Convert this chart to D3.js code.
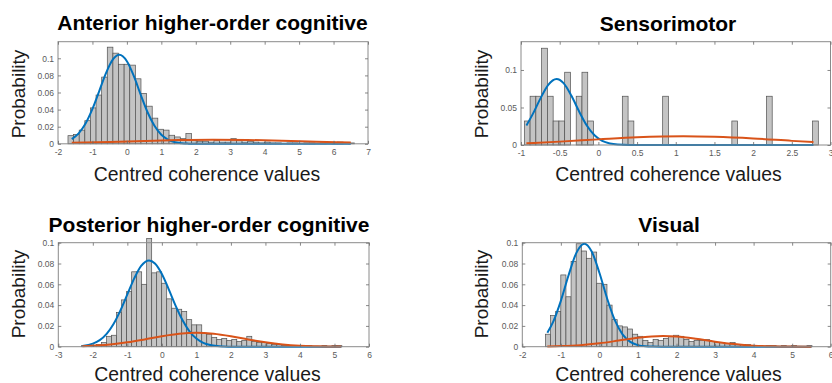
<!DOCTYPE html>
<html>
<head>
<meta charset="utf-8">
<script src="https://cdn.jsdelivr.net/npm/d3@7"></script>
<style>
  body { margin: 0; background: #fff; }
  svg { display: block; }
  text { font-family: "Liberation Sans", Arial, Helvetica, sans-serif; }
</style>
</head>
<body>
<svg id="chart" width="832" height="383"></svg>
<script>
// ---- Histogram probabilities (equal-width bins) ----
const antStart = -1.71, antWidth = 0.163;
const antProb = [0.0095, 0.011, 0.016, 0.027, 0.042, 0.057, 0.078, 0.113, 0.106, 0.093,
  0.093, 0.092, 0.076, 0.059, 0.044, 0.030, 0.017, 0.016, 0.010, 0.008,
  0.006, 0.012, 0.004, 0.003, 0.003, 0.002, 0.004, 0.002, 0.002, 0.006,
  0.004, 0.002, 0.003, 0.002, 0.001, 0.002, 0.001, 0.001, 0, 0.001,
  0.001, 0, 0.001, 0.001, 0, 0.001, 0, 0.001, 0.002, 0, 0.001];

const smStart = -0.957, smWidth = 0.0745;
const smProb = [0.032, 0.065, 0.065, 0.129, 0.065, 0.032, 0.032, 0.097, 0, 0.065,
  0.097, 0.032, 0, 0, 0, 0, 0, 0.065, 0.032, 0,
  0, 0, 0, 0, 0.065, 0, 0, 0, 0, 0,
  0, 0, 0, 0, 0, 0, 0.032, 0, 0, 0,
  0, 0, 0.065, 0, 0, 0, 0, 0, 0, 0, 0.032];

const postStart = -2.325, postWidth = 0.145;
const postProb = [0.001, 0.0005, 0.001, 0.002, 0.004, 0.010, 0.011, 0.033, 0.045, 0.053,
  0.072, 0.072, 0.060, 0.104, 0.071, 0.072, 0.061, 0.046, 0.037, 0.036,
  0.034, 0.026, 0.021, 0.021, 0.013, 0.012, 0.009, 0.007, 0.008, 0.006,
  0.007, 0.005, 0.006, 0.010, 0.005, 0.004, 0.004, 0.003, 0.002, 0.002,
  0.001, 0.001, 0.001, 0.001, 0, 0.001, 0, 0, 0.001, 0, 0.001, 0.001];

const visStart = -1.40, visWidth = 0.133;
const visProb = [0.012, 0.030, 0.034, 0.069, 0.048, 0.082, 0.099, 0.092, 0.085, 0.091,
  0.061, 0.060, 0.040, 0.026, 0.020, 0.019, 0.017, 0.012, 0.010, 0.006,
  0.004, 0.007, 0.006, 0.008, 0.010, 0.011, 0.010, 0.007, 0.005, 0.006,
  0.006, 0.007, 0.005, 0.004, 0.004, 0.003, 0.004, 0.002, 0.002, 0.002,
  0.001, 0.001, 0, 0.001, 0.001, 0, 0.001, 0, 0.001, 0, 0, 0.001];

// ---- Fitted mixture components, [x, probability] ----
const antBlue = [[-1.6,0.0055],[-1.4,0.0122],[-1.2,0.0237],[-1.0,0.0408],[-0.8,0.062],[-0.6,0.0833],
  [-0.4,0.0989],[-0.22,0.104],[0,0.0965],[0.2,0.0793],[0.4,0.0575],[0.6,0.0369],[0.8,0.021],
  [1.0,0.0105],[1.2,0.0047],[1.4,0.0018],[1.6,0.0006],[1.8,0.0002],[2.0,0],[6.5,0]];
const antOrange = [[-1.6,0.0012],[-0.5,0.0022],[0.5,0.0033],[1.5,0.0043],[2.5,0.0048],
  [3.5,0.0045],[4.5,0.0036],[5.5,0.0025],[6.5,0.0015]];

const smBlue = [[-0.93,0.026],[-0.85,0.0408],[-0.75,0.0618],[-0.65,0.0799],[-0.54,0.088],
  [-0.45,0.0825],[-0.35,0.0659],[-0.25,0.0449],[-0.15,0.026],[-0.05,0.0129],[0.05,0.0054],
  [0.15,0.002],[0.25,0.0006],[0.4,0],[2.78,0]];
const smOrange = [[-0.93,0.0022],[-0.5,0.0045],[0,0.0075],[0.5,0.0103],[1.1,0.0117],
  [1.5,0.011],[2.0,0.0088],[2.5,0.0055],[2.78,0.0038]];

const postBlue = [[-2.3,0.0008],[-2.0,0.0029],[-1.8,0.0063],[-1.6,0.0124],[-1.4,0.0218],
  [-1.2,0.0349],[-1.0,0.0503],[-0.8,0.0657],[-0.6,0.0777],[-0.37,0.083],[-0.2,0.080],
  [0,0.0699],[0.2,0.0551],[0.4,0.0393],[0.6,0.0254],[0.8,0.0148],[1.0,0.0078],[1.2,0.0037],
  [1.4,0.0016],[1.6,0.0006],[1.8,0.0002],[2.0,0],[5.2,0]];
const postOrange = [[-2.3,0.00055],[-1.5,0.0021],[-1.0,0.0042],[-0.5,0.007],[0,0.0101],
  [0.5,0.0125],[1.0,0.0135],[1.5,0.0125],[2.0,0.0101],[2.5,0.007],[3.0,0.0042],
  [3.5,0.0021],[4.0,0.0009],[4.5,0.0004],[5.2,0.0001]];

const visBlue = [[-1.35,0.0134],[-1.2,0.0238],[-1.0,0.0441],[-0.8,0.0687],[-0.6,0.09],
  [-0.39,0.099],[-0.2,0.0915],[0,0.0711],[0.2,0.0464],[0.4,0.0255],[0.6,0.0118],
  [0.8,0.0046],[1.0,0.0015],[1.2,0.0004],[1.4,0.0001],[1.6,0],[5.5,0]];
const visOrange = [[-1.35,0.0003],[-1.0,0.0006],[-0.5,0.0015],[0,0.0033],[0.5,0.0059],
  [1.0,0.0086],[1.65,0.0102],[2.0,0.0097],[2.5,0.0076],[3.0,0.0048],[3.5,0.0025],
  [4.0,0.001],[4.5,0.00035],[5.0,0.0001],[5.5,0]];

// ---- Axis ticks ----
const antXTicks = [-2, -1, 0, 1, 2, 3, 4, 5, 6, 7];
const smXTicks = [-1, -0.5, 0, 0.5, 1, 1.5, 2, 2.5, 3];
const postXTicks = [-3, -2, -1, 0, 1, 2, 3, 4, 5, 6];
const visXTicks = [-2, -1, 0, 1, 2, 3, 4, 5, 6];
const probTicks = [0, 0.02, 0.04, 0.06, 0.08, 0.1];
const smYTicks = [0, 0.05, 0.1];

const titles = ["Anterior higher-order cognitive", "Sensorimotor",
                "Posterior higher-order cognitive", "Visual"];
const xLabel = "Centred coherence values";
const yLabel = "Probability";

// ---- Panel layout ----
const panels = [
  { title: titles[0], box: { l: 58, t: 41.7, r: 368, b: 143.8 }, xDom: [-2, 7], yMax: 0.1194,
    start: antStart, width: antWidth, prob: antProb, blue: antBlue, orange: antOrange,
    xTicks: antXTicks, yTicks: probTicks, titleX: 212.5, titleY: 30, labelX: 207, labelY: 181, yLabX: 25, yLabY: 94 },
  { title: titles[1], box: { l: 521, t: 41.7, r: 830.5, b: 145 }, xDom: [-1, 3], yMax: 0.1377,
    start: smStart, width: smWidth, prob: smProb, blue: smBlue, orange: smOrange,
    xTicks: smXTicks, yTicks: smYTicks, titleX: 668, titleY: 30.5, labelX: 668.5, labelY: 181, yLabX: 488, yLabY: 94 },
  { title: titles[2], box: { l: 58.3, t: 242.7, r: 369, b: 346.7 }, xDom: [-3, 6], yMax: 0.1,
    start: postStart, width: postWidth, prob: postProb, blue: postBlue, orange: postOrange,
    xTicks: postXTicks, yTicks: probTicks, titleX: 209, titleY: 231.5, labelX: 207.5, labelY: 381, yLabX: 25, yLabY: 294 },
  { title: titles[3], box: { l: 522.3, t: 242.7, r: 830.7, b: 346.7 }, xDom: [-2, 6], yMax: 0.1,
    start: visStart, width: visWidth, prob: visProb, blue: visBlue, orange: visOrange,
    xTicks: visXTicks, yTicks: probTicks, titleX: 669, titleY: 231.5, labelX: 668.5, labelY: 380.5, yLabX: 488, yLabY: 294 }
];

const svg = d3.select("#chart");
const BAR_FILL = "#c4c4c4", BAR_EDGE = "#505050";
const BLUE = "#0072BD", ORANGE = "#D95319";
const tickFmt = v => String(v);

panels.forEach(p => {
  const { l, t, r, b } = p.box;
  const x = d3.scaleLinear().domain(p.xDom).range([l, r]);
  const y = d3.scaleLinear().domain([0, p.yMax]).range([b, t]);
  const g = svg.append("g");

  // histogram bars
  const bins = p.prob.map((v, i) => ({ x0: p.start + i * p.width, x1: p.start + (i + 1) * p.width, v }))
                     .filter(d => d.v > 0);
  g.append("g").selectAll("rect").data(bins).join("rect")
    .attr("x", d => x(d.x0))
    .attr("width", d => x(d.x1) - x(d.x0))
    .attr("y", d => y(d.v))
    .attr("height", d => y(0) - y(d.v))
    .attr("fill", BAR_FILL)
    .attr("stroke", BAR_EDGE)
    .attr("stroke-width", 0.7);

  // fitted components
  const line = d3.line().x(d => x(d[0])).y(d => y(d[1])).curve(d3.curveMonotoneX);
  g.append("path").datum(p.blue).attr("d", line)
    .attr("fill", "none").attr("stroke", BLUE).attr("stroke-width", 2);
  g.append("path").datum(p.orange).attr("d", line)
    .attr("fill", "none").attr("stroke", ORANGE).attr("stroke-width", 2);

  // frame
  g.append("rect").attr("x", l).attr("y", t).attr("width", r - l).attr("height", b - t)
    .attr("fill", "none").attr("stroke", "#8a8a8a").attr("stroke-width", 1);

  // axes with inward ticks
  const styleAxis = sel => {
    sel.select(".domain").remove();
    sel.selectAll(".tick line").attr("stroke", "#6a6a6a").attr("stroke-width", 0.8);
    sel.selectAll(".tick text").attr("fill", "#5a5a5a").attr("font-size", "8.5px")
      .attr("font-family", "\"Liberation Sans\", Arial, sans-serif");
  };
  g.append("g").attr("transform", `translate(0,${b})`)
    .call(d3.axisBottom(x).tickValues(p.xTicks).tickSize(-3).tickPadding(5).tickFormat(tickFmt))
    .call(styleAxis);
  g.append("g").attr("transform", `translate(0,${t})`)
    .call(d3.axisTop(x).tickValues(p.xTicks).tickSize(-3).tickFormat(""))
    .call(styleAxis);
  g.append("g").attr("transform", `translate(${l},0)`)
    .call(d3.axisLeft(y).tickValues(p.yTicks).tickSize(-3).tickPadding(4).tickFormat(tickFmt))
    .call(styleAxis);
  g.append("g").attr("transform", `translate(${r},0)`)
    .call(d3.axisRight(y).tickValues(p.yTicks).tickSize(-3).tickFormat(""))
    .call(styleAxis);

  // title and axis labels
  g.append("text").attr("x", p.titleX).attr("y", p.titleY).attr("text-anchor", "middle")
    .attr("font-size", "21px").attr("font-weight", "bold").attr("fill", "#000").text(p.title);
  g.append("text").attr("x", p.labelX).attr("y", p.labelY).attr("text-anchor", "middle")
    .attr("font-size", "19.4px").attr("fill", "#1a1a1a").text(xLabel);
  g.append("text").attr("transform", `translate(${p.yLabX},${p.yLabY}) rotate(-90)`)
    .attr("text-anchor", "middle").attr("font-size", "19px").attr("fill", "#1a1a1a").text(yLabel);
});
</script>
</body>
</html>
